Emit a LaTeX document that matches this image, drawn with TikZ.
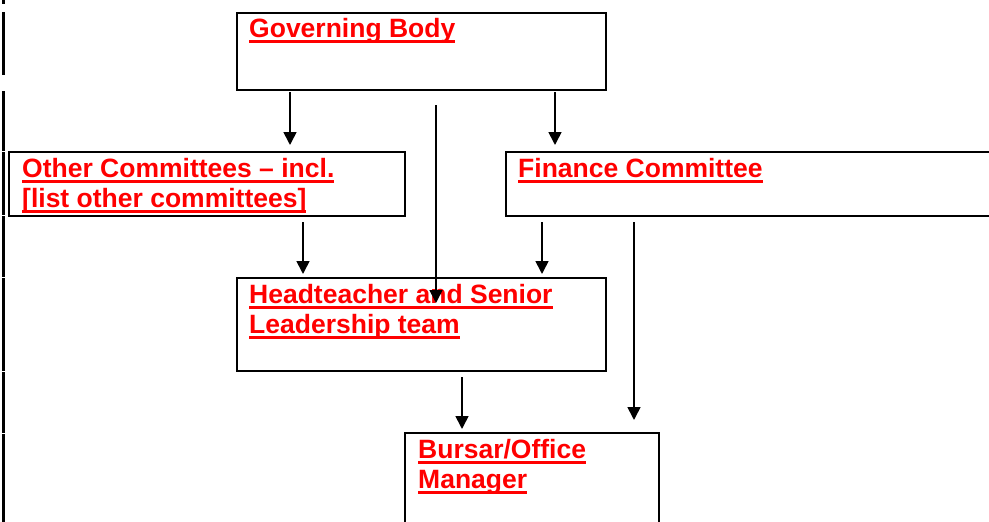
\documentclass[tikz,border=0pt]{standalone}
\usepackage{fontspec}
\setmainfont{Liberation Sans}
\usetikzlibrary{positioning,calc,arrows.meta}

\newcommand{\redline}[1]{\setbox0\hbox{#1}\rlap{\rule[-5.5pt]{\wd0}{2.8pt}}\box0}
\tikzset{
  box/.style={draw, line width=2.6pt, anchor=north west, inner sep=0pt, outer sep=0pt},
  lbl/.style={anchor=base west, inner sep=0pt, text=red, font=\fontsize{26.5pt}{30pt}\selectfont\bfseries},
  arr/.style={-{Triangle[length=13pt,width=13pt]}, line width=1.7pt},
}

\begin{document}
\begin{tikzpicture}[x=1pt, y=-1pt]
    \useasboundingbox (0,0) rectangle (989,522);

    % table border on the left
    \foreach \a/\b in {0/4,12/75,91/151,152/215,216/277,278/371,372/433,434/522}
        \draw[line width=3pt] (3,\a) -- (3,\b);

    % boxes
    \node[box, minimum width=369pt, minimum height=77pt] (gov) at (237,13) {};
    \node[box, minimum width=396pt, minimum height=64pt] (oth) at (9,152) {};
    \node[box, minimum width=500pt, minimum height=64pt] (fin) at (506,152) {};
    \node[box, minimum width=369pt, minimum height=93pt] (head) at (237,278) {};
    \node[box, minimum width=254pt, minimum height=120pt] (bur) at (405,433) {};

    % labels
    \node[lbl] (gov-t) at ($(gov.north west)+(12,24)$) {\redline{Governing Body}};
    \node[lbl] (oth-t) at ($(oth.north west)+(13,25)$)
        {\begin{tabular}[t]{@{}l@{}}\redline{Other Committees – incl.}\\ \redline{[list other committees]}\end{tabular}};
    \node[lbl] (fin-t) at ($(fin.north west)+(12,25)$) {\redline{Finance Committee}};
    \node[lbl] (head-t) at ($(head.north west)+(12,25)$)
        {\begin{tabular}[t]{@{}l@{}}\redline{Headteacher and Senior}\\ \redline{Leadership team}\end{tabular}};
    \node[lbl] (bur-t) at ($(bur.north west)+(13,25)$)
        {\begin{tabular}[t]{@{}l@{}}\redline{Bursar/Office}\\ \redline{Manager}\end{tabular}};

    % arrows
    \coordinate (c1) at (290,0);
    \coordinate (c2) at (555,0);
    \coordinate (c3) at (303,0);
    \coordinate (c4) at (542,0);
    \coordinate (c5) at (634,0);
    \coordinate (c6) at (462,0);
    \coordinate (top) at (436,105);
    \draw[arr, shorten <=2pt, shorten >=7pt] (c1 |- gov.south) -- (c1 |- oth.north);
    \draw[arr, shorten <=2pt, shorten >=7pt] (c2 |- gov.south) -- (c2 |- fin.north);
    \draw[arr, shorten <=6pt, shorten >=4pt] (c3 |- oth.south) -- (c3 |- head.north);
    \draw[arr, shorten <=6pt, shorten >=4pt] (c4 |- fin.south) -- (c4 |- head.north);
    \draw[arr, shorten <=6pt, shorten >=13pt] (c5 |- fin.south) -- (c5 |- bur.north);
    \draw[arr, shorten <=6pt, shorten >=4pt] (c6 |- head.south) -- (c6 |- bur.north);
    \draw[arr, shorten >=-25pt] (top) -- (top |- head.north);
\end{tikzpicture}
\end{document}
